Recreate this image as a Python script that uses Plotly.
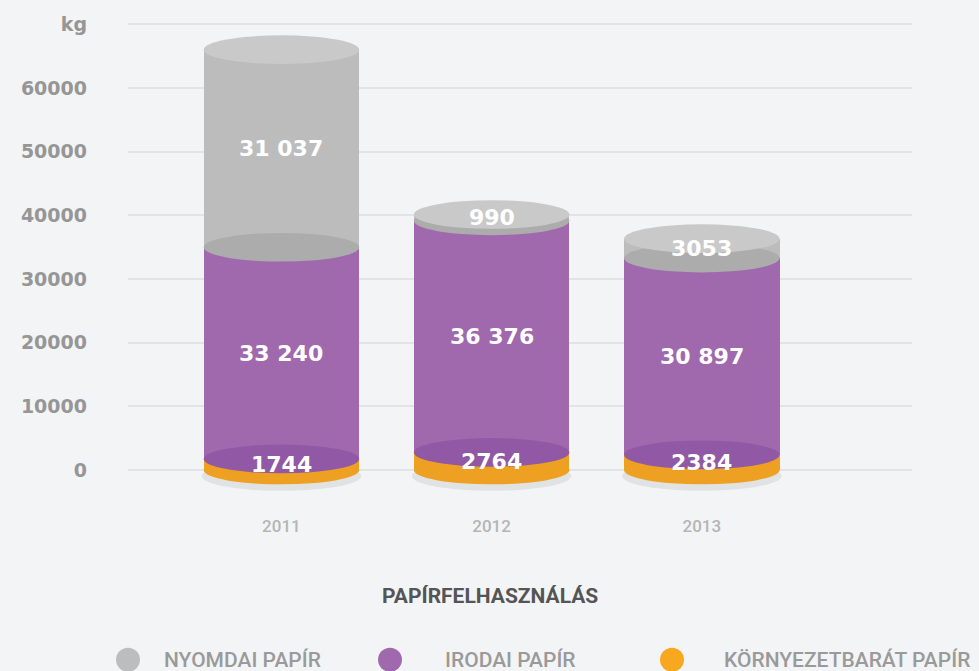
import plotly.graph_objects as go

# ---- data ----
years = ["2011", "2012", "2013"]
series_names = ["KÖRNYEZETBARÁT PAPÍR", "IRODAI PAPÍR", "NYOMDAI PAPÍR"]  # bottom -> top
env_paper = [1744, 2764, 2384]
office_paper = [33240, 36376, 30897]
print_paper = [31037, 990, 3053]
y_tick_vals = [0, 10000, 20000, 30000, 40000, 50000, 60000, 70000]
y_tick_text = ["0", "10000", "20000", "30000", "40000", "50000", "60000", "kg"]
chart_title = "PAPÍRFELHASZNÁLÁS"
legend_order = ["NYOMDAI PAPÍR", "IRODAI PAPÍR", "KÖRNYEZETBARÁT PAPÍR"]

# ---- style ----
BG = "#f3f4f5"
env_body, env_legend = "#eea022", "#f7a81e"
office_body, office_ring = "#a169ad", "#9159a5"
print_body, print_ring, print_top = "#bcbcbc", "#acacac", "#c9c9c9"
legend_colors = {"NYOMDAI PAPÍR": "#bdbdbd", "IRODAI PAPÍR": "#a169ad",
                 "KÖRNYEZETBARÁT PAPÍR": env_legend}
BAR_W = 0.74
ELL_H = 2250  # half-height of cylinder ellipses in data units

xs = list(range(len(years)))
series = [env_paper, office_paper, print_paper]
bodies = [env_body, office_body, print_body]

fig = go.Figure()
for name, vals, col in zip(series_names, series, bodies):
    fig.add_trace(go.Bar(x=xs, y=vals, name=name, width=BAR_W,
                         marker=dict(color=col, line=dict(width=0)),
                         showlegend=False, hoverinfo="y+name"))

def fmt(v):
    s = f"{v:,}".replace(",", " ")
    return s if v >= 10000 else str(v)

shapes = []
annotations = []
for i, x in enumerate(xs):
    c1 = env_paper[i]
    c2 = c1 + office_paper[i]
    c3 = c2 + print_paper[i]
    x0, x1 = x - BAR_W / 2, x + BAR_W / 2
    # soft shadow
    shapes.append(dict(type="circle", layer="below", xref="x", yref="y",
                       x0=x0 - 0.01, x1=x1 + 0.01, y0=-ELL_H * 1.45, y1=ELL_H * 0.6,
                       fillcolor="rgba(0,0,0,0.07)", line=dict(width=0)))
    for center, col in [(0, env_body), (c1, office_ring), (c2, print_ring), (c3, print_top)]:
        shapes.append(dict(type="circle", layer="above", xref="x", yref="y",
                           x0=x0, x1=x1, y0=center - ELL_H, y1=center + ELL_H,
                           fillcolor=col, line=dict(width=0)))
    base = 0
    for vals in series:
        v = vals[i]
        annotations.append(dict(x=x, y=base + v / 2, xref="x", yref="y",
                                text=fmt(v), showarrow=False,
                                font=dict(family="DejaVu Sans", size=22, color="white",
                                          weight="bold")))
        base += v

# title
annotations.append(dict(x=0.4617, y=-0.2, xref="paper", yref="paper", text=chart_title,
                        showarrow=False, yanchor="middle",
                        font=dict(family="Roboto", size=21, color="#555555", weight="bold")))

# custom legend
leg_circle_x = [128, 390, 672]
leg_text_x = [162, 443, 722]
for name, cx, tx in zip(legend_order, leg_circle_x, leg_text_x):
    px = (cx - 128) / 784
    shapes.append(dict(type="circle", xref="paper", yref="paper",
                       xsizemode="pixel", ysizemode="pixel",
                       xanchor=px, yanchor=-0.333,
                       x0=-12, x1=12, y0=-12, y1=12,
                       fillcolor=legend_colors[name], line=dict(width=0)))
    annotations.append(dict(x=(tx - 128) / 784, y=-0.333, xref="paper", yref="paper",
                            text=name, showarrow=False, xanchor="left", yanchor="middle",
                            font=dict(family="Roboto", size=21, color="#9a9a9a",
                                      weight=500)))

fig.update_layout(
    width=979, height=671,
    margin=dict(l=128, r=67, t=20, b=171),
    paper_bgcolor=BG, plot_bgcolor=BG,
    barmode="stack", bargap=0,
    shapes=shapes, annotations=annotations,
    showlegend=False,
    xaxis=dict(range=[-0.73, 3.0], tickvals=xs, ticktext=years, showgrid=False,
               zeroline=False, showline=False, ticks="", ticklabelstandoff=14,
               tickfont=dict(family="Roboto", size=17, color="#b5b5b5", weight=500)),
    yaxis=dict(range=[-4712, 70680], tickvals=y_tick_vals, ticktext=y_tick_text,
               showgrid=True, gridcolor="#e2e3e4", gridwidth=1.5, zeroline=False,
               showline=False, ticks="", ticklabelstandoff=40,
               tickfont=dict(family="DejaVu Sans", size=19, color="#969696",
                             weight="bold")),
)

fig.write_html("out.html",
               config={"displayModeBar": False},
               post_script="document.body.style.margin='0';"
                           "document.body.style.background='#f3f4f5';"
                           "document.body.style.overflow='hidden';")
